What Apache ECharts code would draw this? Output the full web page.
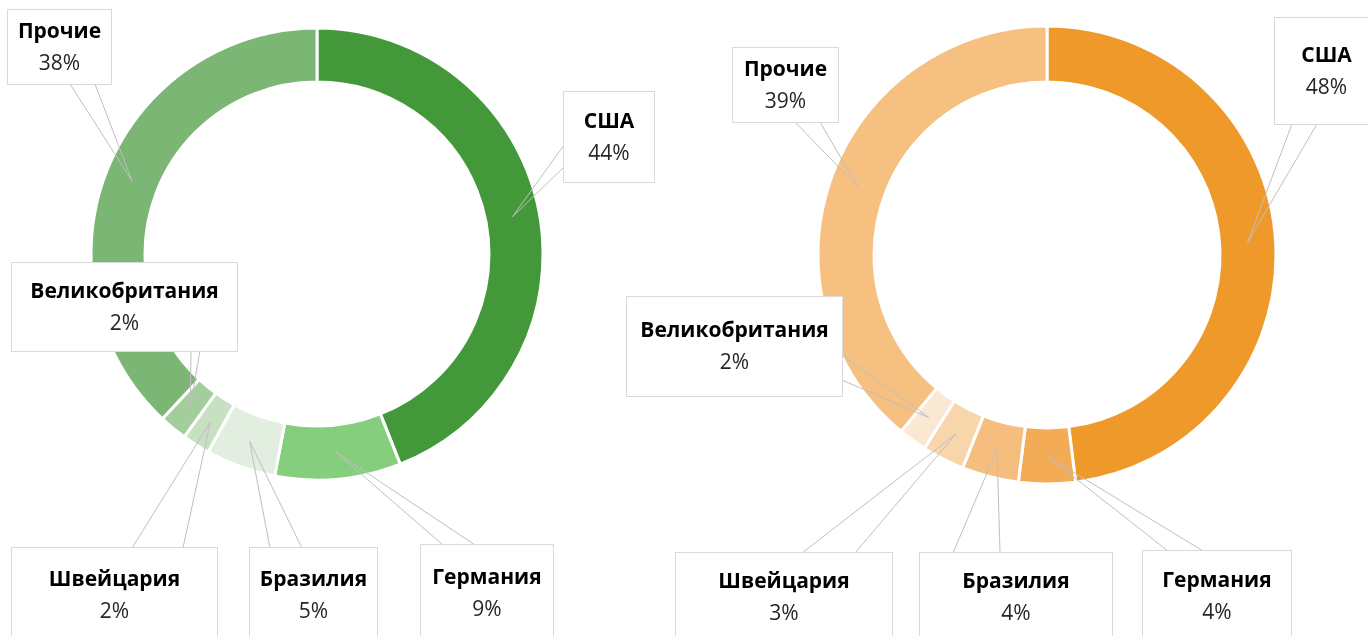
<!DOCTYPE html>
<html>
<head>
<meta charset="utf-8">
<script src="https://cdn.jsdelivr.net/npm/echarts@6/dist/echarts.min.js"></script>
<style>
  html, body { margin: 0; background: #fff; }
  #chart { width: 1368px; height: 636px; }
</style>
</head>
<body>
<div id="chart"></div>
<script>
const countries = ['США', 'Германия', 'Бразилия', 'Швейцария', 'Великобритания', 'Прочие'];
const leftShares = [44, 9, 5, 2, 2, 38];
const rightShares = [48, 4, 4, 3, 2, 39];

const leftColors = ['#43993A', '#85CE7D', '#E2EFE0', '#C6E0C1', '#A3CE9C', '#7BB674'];
const rightColors = ['#F0992B', '#F3AB55', '#F5BE7E', '#F8D6AB', '#FBE8D3', '#F5C080'];

// callout boxes [x0, y0, x1, y1] and where the pointer leaves the box
const leftCallouts = [
  { box: [564, 92, 654, 182], edge: 'left', from: 145, to: 167 },
  { box: [421, 545, 553, 642], edge: 'top', from: 443, to: 475 },
  { box: [250, 548, 377, 642], edge: 'top', from: 270, to: 302 },
  { box: [12, 548, 217, 642], edge: 'top', from: 132, to: 183 },
  { box: [12, 263, 237, 351], edge: 'bottom', from: 191, to: 200 },
  { box: [8, 10, 111, 84], edge: 'bottom', from: 70, to: 95 }
];
const rightCallouts = [
  { box: [1275, 18, 1378, 124], edge: 'bottom', from: 1292, to: 1317 },
  { box: [1143, 551, 1291, 642], edge: 'top', from: 1168, to: 1203 },
  { box: [920, 553, 1112, 642], edge: 'top', from: 953, to: 1000 },
  { box: [676, 553, 892, 642], edge: 'top', from: 802, to: 855 },
  { box: [627, 297, 842, 396], edge: 'right', from: 355, to: 380 },
  { box: [733, 48, 838, 122], edge: 'bottom', from: 795, to: 820 }
];

const leftCenter = [317, 254];
const rightCenter = [1047, 255];

function ringData(shares, colors) {
  return countries.map(function (name, i) {
    return { name: name, value: shares[i], itemStyle: { color: colors[i] } };
  });
}

function labelData(shares, callouts) {
  return countries.map(function (name, i) {
    const b = callouts[i].box;
    const h = b[3] - b[1];
    return {
      name: name,
      value: shares[i],
      label: { width: b[2] - b[0], padding: [(h - 64) / 2 + 1, 0, (h - 64) / 2 - 1, 0] }
    };
  });
}

function calloutLayout(callouts, center, midR) {
  return function (params) {
    const c = callouts[params.dataIndex];
    const x0 = c.box[0], y0 = c.box[1], x1 = c.box[2], y1 = c.box[3];
    const p = params.labelLinePoints[0];
    const dx = p[0] - center[0], dy = p[1] - center[1];
    const len = Math.sqrt(dx * dx + dy * dy) || 1;
    const tip = [center[0] + dx / len * midR, center[1] + dy / len * midR];
    let a, b;
    if (c.edge === 'top') { a = [c.from, y0]; b = [c.to, y0]; }
    else if (c.edge === 'bottom') { a = [c.from, y1]; b = [c.to, y1]; }
    else if (c.edge === 'left') { a = [x0, c.from]; b = [x0, c.to]; }
    else { a = [x1, c.from]; b = [x1, c.to]; }
    return {
      x: (x0 + x1) / 2,
      y: (y0 + y1) / 2,
      align: 'center',
      verticalAlign: 'middle',
      labelLinePoints: [a, tip, b]
    };
  };
}

const labelStyle = {
  show: true,
  position: 'outside',
  formatter: '{n|{b}}\n{v|{c}%}',
  backgroundColor: '#fff',
  borderColor: '#D9D9D9',
  borderWidth: 1,
  rich: {
    n: { fontFamily: 'Open Sans', fontWeight: 'bold', fontSize: 21, color: '#000', lineHeight: 32, align: 'center' },
    v: { fontFamily: 'Open Sans', fontWeight: 'normal', fontSize: 21, color: '#262626', lineHeight: 32, align: 'center' }
  }
};

// coloured ring
function ringSeries(shares, colors, center, radius) {
  return {
    type: 'pie',
    z: 2,
    center: center,
    radius: radius,
    startAngle: 90,
    clockwise: true,
    silent: true,
    emphasis: { disabled: true },
    itemStyle: { borderColor: '#fff', borderWidth: 3 },
    label: { show: false },
    labelLine: { show: false },
    data: ringData(shares, colors)
  };
}

// same slices, transparent, only carries the callouts so they sit above the ring
function calloutSeries(shares, callouts, center, radius) {
  return {
    type: 'pie',
    z: 3,
    center: center,
    radius: radius,
    startAngle: 90,
    clockwise: true,
    silent: true,
    avoidLabelOverlap: false,
    emphasis: { disabled: true },
    itemStyle: { color: 'rgba(0,0,0,0)', borderWidth: 0 },
    label: labelStyle,
    labelLine: { show: true, lineStyle: { color: '#BFBFBF', width: 1 } },
    labelLayout: calloutLayout(callouts, center, (radius[0] + radius[1]) / 2),
    data: labelData(shares, callouts)
  };
}

const chart = echarts.init(document.getElementById('chart'));
chart.setOption({
  animation: false,
  backgroundColor: '#fff',
  series: [
    ringSeries(leftShares, leftColors, leftCenter, [172, 226]),
    ringSeries(rightShares, rightColors, rightCenter, [173, 229]),
    calloutSeries(leftShares, leftCallouts, leftCenter, [172, 226]),
    calloutSeries(rightShares, rightCallouts, rightCenter, [173, 229])
  ]
});
</script>
</body>
</html>
